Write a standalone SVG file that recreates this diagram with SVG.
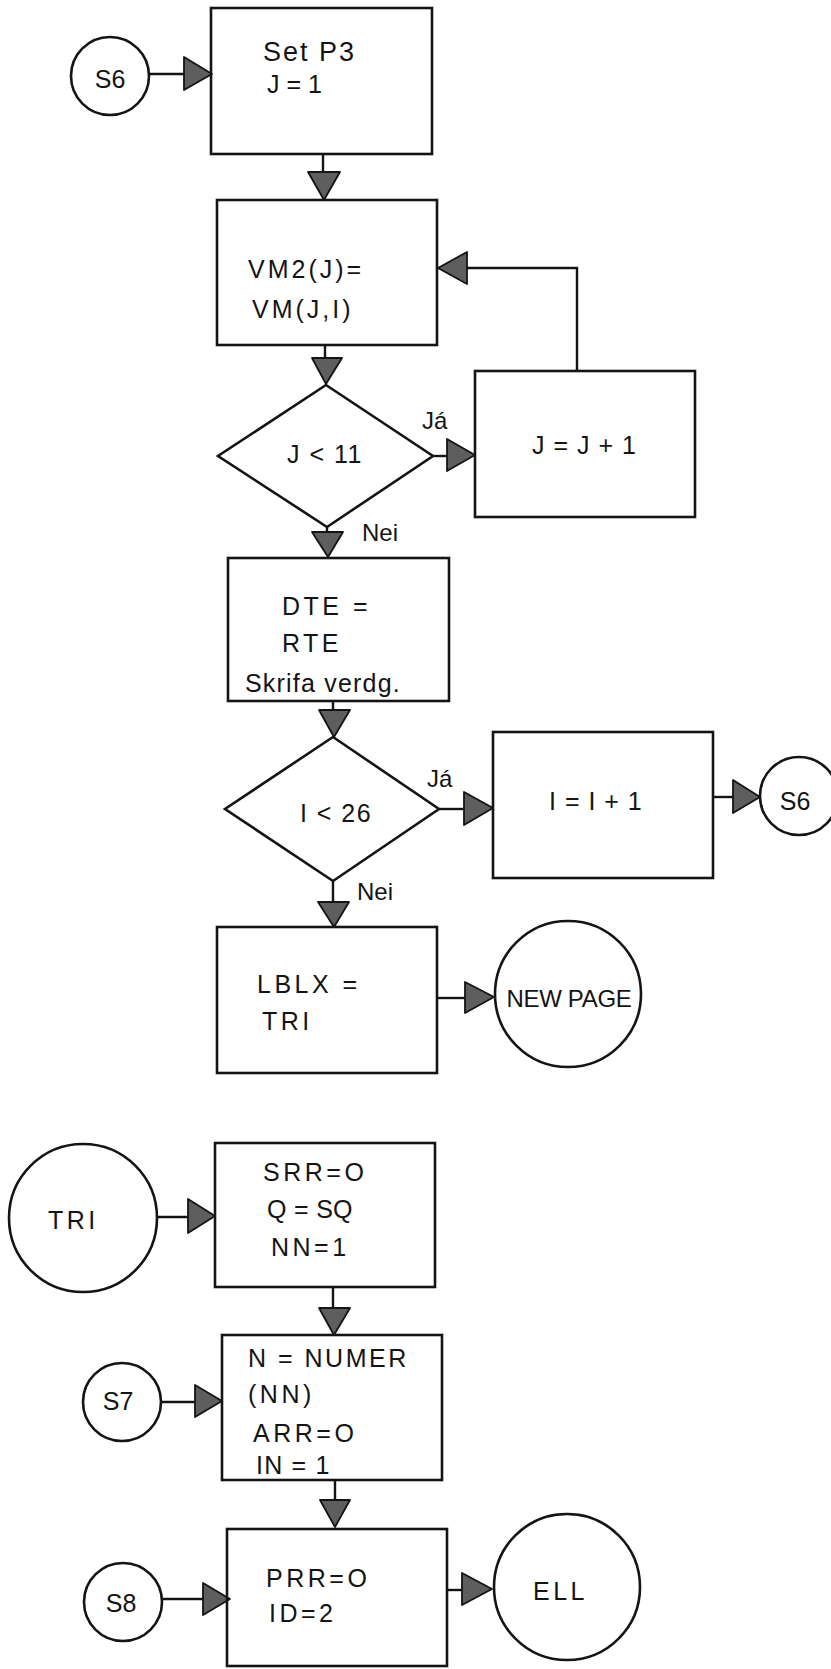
<svg xmlns="http://www.w3.org/2000/svg" width="831" height="1669" viewBox="0 0 831 1669">
<style>
.bg{fill:#ffffff}
.shape{fill:none;stroke:#141414;stroke-width:2.6}
.line{fill:none;stroke:#141414;stroke-width:2.4}
.arrow{fill:#5e5e5e;stroke:#141414;stroke-width:1.8;stroke-linejoin:round}
text{font-family:"Liberation Sans",Arial,sans-serif;fill:#141414}
.t{font-size:25px;letter-spacing:2px}
.tw{font-size:25px;letter-spacing:3.5px}
.c{font-size:25px;text-anchor:middle}
.lbl{font-size:24px}
</style>
<rect class="bg" x="0" y="0" width="831" height="1669"/>

<g id="connectors">
  <line class="line" x1="149" y1="74" x2="186" y2="74"/>
  <polygon class="arrow" points="184,57 184,90 212,74"/>
  <line class="line" x1="323" y1="154" x2="323" y2="174"/>
  <polygon class="arrow" points="308,172 340,172 324,200"/>
  <line class="line" x1="325" y1="345" x2="325" y2="360"/>
  <polygon class="arrow" points="312,358 342,358 326,384"/>
  <line class="line" x1="433" y1="456" x2="449" y2="456"/>
  <polygon class="arrow" points="447,439 447,471 475,455"/>
  <polyline class="line" points="577,371 577,268 465,268"/>
  <polygon class="arrow" points="467,252 467,284 438,268"/>
  <line class="line" x1="327" y1="527" x2="327" y2="534"/>
  <polygon class="arrow" points="312,532 343,532 328,557"/>
  <line class="line" x1="333" y1="701" x2="333" y2="712"/>
  <polygon class="arrow" points="319,710 350,710 334,737"/>
  <line class="line" x1="439" y1="809" x2="466" y2="809"/>
  <polygon class="arrow" points="464,792 464,825 493,808"/>
  <line class="line" x1="713" y1="797" x2="735" y2="797"/>
  <polygon class="arrow" points="733,780 733,813 760,797"/>
  <line class="line" x1="333" y1="881" x2="333" y2="904"/>
  <polygon class="arrow" points="318,902 349,902 334,927"/>
  <line class="line" x1="437" y1="998" x2="467" y2="998"/>
  <polygon class="arrow" points="465,982 465,1013 494,997"/>
  <line class="line" x1="157" y1="1217" x2="190" y2="1217"/>
  <polygon class="arrow" points="188,1199 188,1233 215,1216"/>
  <line class="line" x1="333" y1="1287" x2="333" y2="1310"/>
  <polygon class="arrow" points="319,1308 350,1308 334,1335"/>
  <line class="line" x1="162" y1="1402" x2="197" y2="1402"/>
  <polygon class="arrow" points="195,1385 195,1417 222,1401"/>
  <line class="line" x1="335" y1="1480" x2="335" y2="1502"/>
  <polygon class="arrow" points="320,1500 350,1500 335,1527"/>
  <line class="line" x1="163" y1="1599" x2="205" y2="1599"/>
  <polygon class="arrow" points="203,1583 203,1615 230,1599"/>
  <line class="line" x1="447" y1="1590" x2="464" y2="1590"/>
  <polygon class="arrow" points="462,1573 462,1605 492,1589"/>
  <text class="lbl" x="422" y="429">Já</text>
  <text class="lbl" x="362" y="541">Nei</text>
  <text class="lbl" x="427" y="787">Já</text>
  <text class="lbl" x="357" y="900">Nei</text>
</g>

<g id="s6-start">
  <circle class="shape" cx="110" cy="76" r="39"/>
  <text class="c" x="110" y="88">S6</text>
</g>

<g id="box-setp3">
  <rect class="shape" x="211" y="8" width="221" height="146"/>
  <text class="t" x="263" y="61" style="font-size:27px">Set P3</text>
  <text class="t" x="267" y="93" style="letter-spacing:0">J = 1</text>
</g>

<g id="box-vm2">
  <rect class="shape" x="217" y="200" width="220" height="145"/>
  <text class="t" x="248" y="278" style="letter-spacing:3px">VM2(J)=</text>
  <text class="t" x="252" y="318" style="letter-spacing:3px">VM(J,I)</text>
</g>

<g id="dec-j11">
  <polygon class="shape" points="326,385 433,456 327,527 218,456"/>
  <text class="c" x="325" y="463" style="letter-spacing:1.5px">J &lt; 11</text>
</g>

<g id="box-jinc">
  <rect class="shape" x="475" y="371" width="220" height="146"/>
  <text class="t" x="532" y="454" style="letter-spacing:1px">J = J + 1</text>
</g>

<g id="box-dte">
  <rect class="shape" x="228" y="558" width="221" height="143"/>
  <text class="tw" x="282" y="615">DTE =</text>
  <text class="tw" x="282" y="652">RTE</text>
  <text class="t" x="245" y="692" style="letter-spacing:1.2px">Skrifa verdg.</text>
</g>

<g id="dec-i26">
  <polygon class="shape" points="333,737 439,809 333,881 225,809"/>
  <text class="c" x="336" y="822" style="letter-spacing:1.5px">I &lt; 26</text>
</g>

<g id="box-iinc">
  <rect class="shape" x="493" y="732" width="220" height="146"/>
  <text class="t" x="549" y="810" style="letter-spacing:1px">I = I + 1</text>
</g>

<g id="s6-end">
  <circle class="shape" cx="799" cy="796" r="39"/>
  <text class="c" x="795" y="810">S6</text>
</g>

<g id="box-lblx">
  <rect class="shape" x="217" y="927" width="220" height="146"/>
  <text class="tw" x="257" y="993">LBLX =</text>
  <text class="tw" x="262" y="1030">TRI</text>
</g>

<g id="newpage">
  <circle class="shape" cx="568" cy="994" r="73"/>
  <text class="c" x="569" y="1007" style="font-size:24px;letter-spacing:-0.3px">NEW PAGE</text>
</g>

<g id="tri">
  <circle class="shape" cx="83" cy="1218" r="74"/>
  <text class="tw" x="48" y="1229">TRI</text>
</g>

<g id="box-srr">
  <rect class="shape" x="215" y="1143" width="220" height="144"/>
  <text class="tw" x="263" y="1181">SRR=O</text>
  <text class="t" x="267" y="1218" style="letter-spacing:0.3px">Q = SQ</text>
  <text class="tw" x="271" y="1256">NN=1</text>
</g>

<g id="s7">
  <circle class="shape" cx="122" cy="1402" r="39"/>
  <text class="c" x="118" y="1410">S7</text>
</g>

<g id="box-numer">
  <rect class="shape" x="222" y="1335" width="220" height="145"/>
  <text class="t" x="248" y="1367" style="letter-spacing:2.5px">N = NUMER</text>
  <text class="tw" x="248" y="1403">(NN)</text>
  <text class="tw" x="253" y="1442">ARR=O</text>
  <text class="t" x="256" y="1474" style="letter-spacing:1.2px">IN = 1</text>
</g>

<g id="s8">
  <circle class="shape" cx="123" cy="1602" r="39"/>
  <text class="c" x="121" y="1612">S8</text>
</g>

<g id="box-prr">
  <rect class="shape" x="227" y="1529" width="220" height="137"/>
  <text class="tw" x="266" y="1587">PRR=O</text>
  <text class="tw" x="269" y="1622">ID=2</text>
</g>

<g id="ell">
  <circle class="shape" cx="567" cy="1587" r="73"/>
  <text class="tw" x="533" y="1600">ELL</text>
</g>
</svg>
